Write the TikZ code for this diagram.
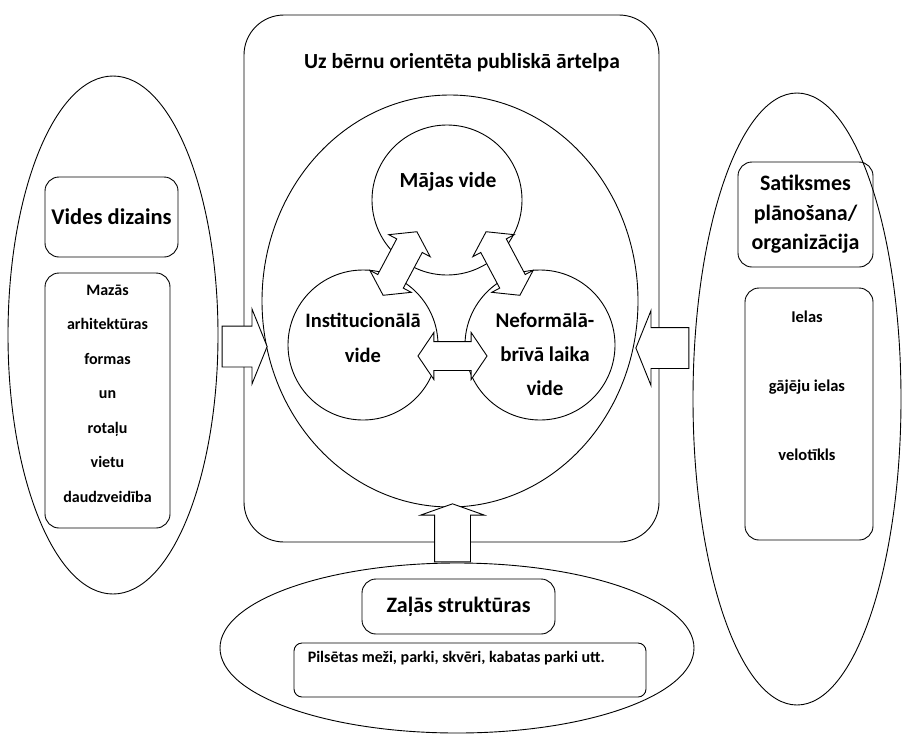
\documentclass[tikz,border=0pt]{standalone}
\usepackage{fontspec}
\setmainfont{Carlito}
\usetikzlibrary{shapes.geometric, shapes.arrows}

\begin{document}
\begin{tikzpicture}[x=1pt, y=-1pt, line width=0.9pt,
  oval/.style={draw, ellipse, inner sep=0pt},
  bubble/.style={draw, fill=white, circle, inner sep=0pt, minimum size=150pt},
  box/.style={draw, rounded corners=14pt, inner sep=0pt},
  bigarrow/.style={draw, fill=white, single arrow, inner xsep=0pt, inner ysep=20pt,
    single arrow head extend=17pt, single arrow tip angle=136},
  linkarrow/.style={draw, fill=white, double arrow, inner xsep=0pt, inner ysep=14pt,
    double arrow head extend=9pt, double arrow tip angle=112, minimum height=72pt}]

  \useasboundingbox (0,0) rectangle (902,734);

  % Public space frame
  \node[draw, rounded corners=40pt, minimum width=415pt, minimum height=527pt] (space) at (451.5,278.5) {};
  \node[font=\bfseries\fontsize{21.5}{24}\selectfont] (title) at (462,63) {Uz bērnu orientēta publiskā ārtelpa};
  \node[oval, minimum width=376pt, minimum height=412pt] (child) at (450,301) {};

  % Three environments
  \node[bubble] (majas) at (447,200) {};
  \node[bubble] (inst) at (363,345) {};
  \node[bubble] (nef) at (540,345) {};
  \node[font=\bfseries\fontsize{21.5}{24}\selectfont] (majastext) at (448,182) {Mājas vide};
  \node[align=center, font=\bfseries\fontsize{20.5}{35}\selectfont] (insttext) at (363,338) {Institucionālā\\vide};
  \node[align=center, font=\bfseries\fontsize{21}{34}\selectfont] (neftext) at (545,354) {Neformālā-\\brīvā laika\\vide};

  % Environmental design
  \node[oval, minimum width=210pt, minimum height=518pt] (design) at (113,335) {};
  \node[box, minimum width=133pt, minimum height=80pt, font=\bfseries\fontsize{22.5}{26}\selectfont] (designbox) at (111.5,217) {Vides dizains};
  \node[box, minimum width=125pt, minimum height=255pt] (forms) at (107.5,400.5) {};
  \node[align=center, font=\bfseries\fontsize{16}{34.5}\selectfont] (formstext) at ([yshift=7pt]forms.center)
    {Mazās\\arhitektūras\\formas\\un\\rotaļu\\vietu\\daudzveidība};

  % Traffic planning
  \node[oval, minimum width=208pt, minimum height=612pt] (traffic) at (797,399) {};
  \node[box, minimum width=135pt, minimum height=105pt, align=center, font=\bfseries\fontsize{22}{29.5}\selectfont] (trafficbox) at (805.5,214.5)
    {Satiksmes\\plānošana/\\organizācija};
  \node[box, minimum width=128pt, minimum height=252pt] (streets) at (809,414) {};
  \node[align=center, font=\bfseries\fontsize{16.5}{69}\selectfont] (streetstext) at ([shift={(-2pt,28pt)}]streets.center)
    {Ielas\\gājēju ielas\\velotīkls};

  % Green structures
  \node[oval, minimum width=474pt, minimum height=170pt] (green) at (457,648) {};
  \node[box, minimum width=193pt, minimum height=55pt, font=\bfseries\fontsize{22}{24}\selectfont] (greenbox) at (458.5,606.5) {Zaļās struktūras};
  \node[box, rounded corners=8pt, minimum width=352pt, minimum height=54pt] (parks) at (470,670) {};
  \node[anchor=west, font=\bfseries\fontsize{16}{18}\selectfont] (parkstext) at (304,658) {Pilsētas meži, parki, skvēri, kabatas parki utt.};

  % Block arrows
  \node[bigarrow, minimum height=45pt] (arrL) at (240.5,346.5) {};
  \node[bigarrow, minimum height=53pt, rotate=180] (arrR) at (666.5,348) {};
  \node[bigarrow, minimum height=58pt, rotate=90, inner ysep=17.5pt,
    single arrow head extend=14pt, single arrow tip angle=141] (arrU) at (452.5,536) {};
  \node[linkarrow, minimum height=69pt] (linkIN) at (452.5,356) {};
  \node[linkarrow, rotate=62] (linkIM) at (400,263.5) {};
  \node[linkarrow, rotate=118] (linkNM) at (503,263.5) {};
\end{tikzpicture}
\end{document}
